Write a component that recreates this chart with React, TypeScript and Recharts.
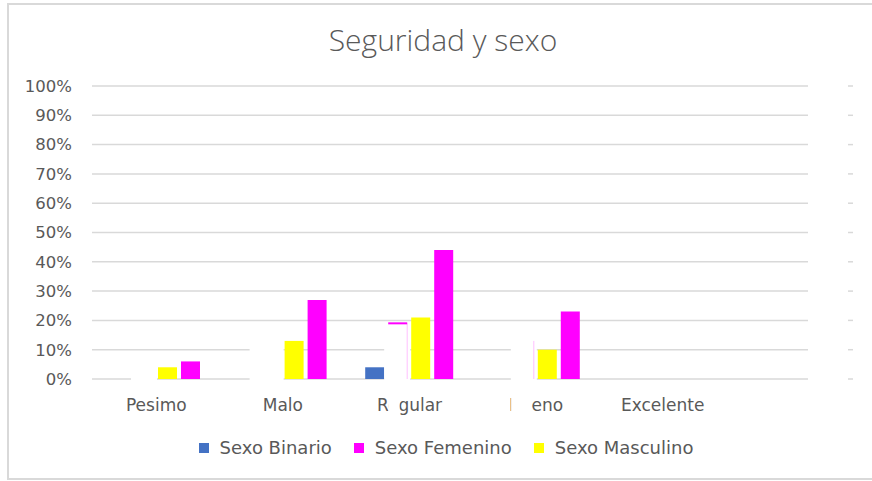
import { BarChart, Bar, XAxis, YAxis, CartesianGrid, Legend } from 'recharts';

const categories = ['Pesimo', 'Malo', 'Regular', 'Bueno', 'Excelente'];
const sexoBinario = [0, 0, 4, 0, 0];
const sexoFemenino = [6, 27, 44, 23, 0];
const sexoMasculino = [4, 13, 21, 10, 0];
// white leftovers sitting in the 2nd slot of every group (they hide the gridlines)
const tapados = [1, 12, 19, 13, 0];
const yTicks = [0, 10, 20, 30, 40, 50, 60, 70, 80, 90, 100];

const BLUE = '#4472C4';
const MAGENTA = '#FF00FF';
const YELLOW = '#FFFF00';
const GRID = '#D9D9D9';
const TEXT = '#595959';
const FONT = '"DejaVu Sans", sans-serif';

const legendItems = [
  { label: 'Sexo Binario', color: BLUE },
  { label: 'Sexo Femenino', color: MAGENTA },
  { label: 'Sexo Masculino', color: YELLOW },
];

// part of the category label hidden by a white box: [offset from centre, width]
const labelMasks: Record<string, [number, number]> = {
  Regular: [-21, 11],
  Bueno: [-25, 20],
};

const data = categories.map((name, i) => ({
  name,
  binario: sexoBinario[i],
  tapado: tapados[i],
  masculino: sexoMasculino[i],
  femenino: sexoFemenino[i],
}));

const TapadoShape = (props: any) => {
  const { x, y, width, height, payload } = props;
  if (height == null || height <= 0) return <g />;
  const edged = !!labelMasks[payload.name];
  const wide = payload.name === 'Malo' ? 12 : 4;
  return (
    <g>
      <rect x={x - wide} y={y} width={width + wide + 3} height={height + 1} fill="#fff" />
      {payload.name === 'Regular' && (
        <line x1={x} x2={x + width} y1={y} y2={y} stroke={MAGENTA} strokeWidth={2} />
      )}
      {edged && (
        <line x1={x + width} x2={x + width} y1={y} y2={y + height} stroke={MAGENTA} strokeOpacity={0.25} />
      )}
    </g>
  );
};

const CategoryTick = (props: any) => {
  const { x, y, payload } = props;
  const mask = labelMasks[payload.value];
  return (
    <g>
      <text x={x} y={y} dy="0.71em" textAnchor="middle" fill={TEXT} fontSize={17} fontFamily={FONT}>
        {payload.value}
      </text>
      {mask && <rect x={x + mask[0]} y={y - 2} width={mask[1]} height={24} fill="#fff" />}
    </g>
  );
};

const LegendBox = () => (
  <div style={{ display: 'flex', justifyContent: 'center', gap: 22, fontFamily: FONT, fontSize: 18, color: TEXT }}>
    {legendItems.map((it) => (
      <span key={it.label} style={{ display: 'flex', alignItems: 'center', gap: 11 }}>
        <span style={{ width: 10, height: 10, background: it.color, display: 'inline-block' }} />
        {it.label}
      </span>
    ))}
  </div>
);

export default function App() {
  return (
    <div style={{ position: 'absolute', left: 0, top: 0, width: 872, height: 481, background: '#fff' }}>
      <div
        style={{
          position: 'absolute',
          left: 7,
          top: 3,
          width: 880,
          height: 473,
          border: `2px solid ${GRID}`,
        }}
      />
      <div
        style={{
          position: 'absolute',
          left: 0,
          width: 886,
          top: 19,
          textAlign: 'center',
          fontFamily: '"Open Sans", sans-serif',
          fontWeight: 300,
          fontSize: 30,
          color: TEXT,
        }}
      >
        Seguridad y sexo
      </div>
      <div style={{ position: 'absolute', left: 0, top: 0 }}>
        <BarChart
          width={872}
          height={481}
          data={data}
          margin={{ top: 86, right: 64, bottom: 62, left: 0 }}
          barSize={19}
          barGap={4}
        >
          <CartesianGrid vertical={false} stroke={GRID} strokeWidth={1.5} />
          {/* little dashes standing to the right of the plot, one per gridline */}
          <CartesianGrid vertical={false} x={848} width={5} stroke={GRID} strokeWidth={1.5} />
          <XAxis
            dataKey="name"
            padding={{ left: 1, right: 82 }}
            axisLine={false}
            tickLine={false}
            tickSize={0}
            tickMargin={20}
            height={40}
            interval={0}
            tick={<CategoryTick />}
          />
          <YAxis
            domain={[0, 100]}
            ticks={yTicks}
            interval={0}
            width={92}
            axisLine={false}
            tickLine={false}
            tickSize={0}
            tickMargin={20}
            tickFormatter={(v: number) => `${v}%`}
            tick={{ fill: TEXT, fontSize: 16.5, fontFamily: FONT }}
          />
          <Legend
            layout="horizontal"
            verticalAlign="middle"
            align="center"
            content={<LegendBox />}
            wrapperStyle={{ top: 437, left: 0, width: 892 }}
          />
          <Bar dataKey="binario" name="Sexo Binario" fill={BLUE} isAnimationActive={false} />
          <Bar dataKey="tapado" fill="#fff" legendType="none" shape={<TapadoShape />} isAnimationActive={false} />
          <Bar dataKey="masculino" name="Sexo Masculino" fill={YELLOW} isAnimationActive={false} />
          <Bar dataKey="femenino" name="Sexo Femenino" fill={MAGENTA} isAnimationActive={false} />
        </BarChart>
      </div>
    </div>
  );
}
